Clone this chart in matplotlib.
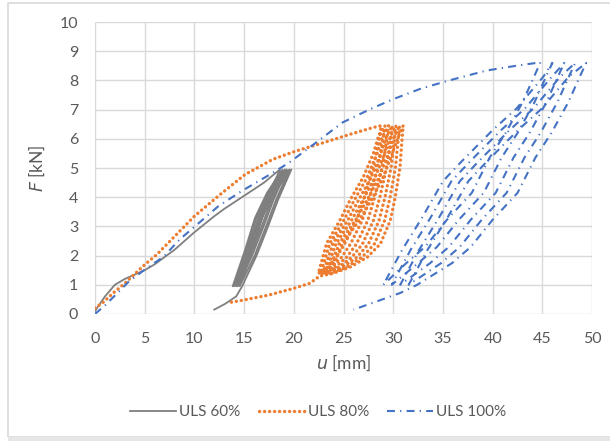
import matplotlib
matplotlib.use("Agg")
import matplotlib.pyplot as plt
from matplotlib.patches import Rectangle

plt.rcParams['font.family'] = ['Lato', 'DejaVu Sans']

# ULS 60 % : first loading, cyclic part, final unloading
u60 = [0, 0.5, 1, 2, 2.5, 3, 4, 5, 6, 7, 8, 10, 12, 13, 15, 17, 18.6,
       18.15, 17.25, 16.2, 15.1, 13.85, 15.1, 16.1, 17.3, 18.85,
       18.4, 17.5, 16.45, 15.35, 14.0, 15.25, 16.25, 17.45, 19.1,
       18.65, 17.75, 16.7, 15.6, 14.2, 15.45, 16.45, 17.65, 19.3,
       18.85, 17.95, 16.9, 15.8, 14.35, 15.6, 16.6, 17.8, 19.55,
       19.1, 18.2, 17.15, 16.05, 14.55, 15.8, 16.8, 18.0, 19.75,
       19.3, 18.4, 17.35, 16.25, 14.8,
       14.2, 13.1, 12.0]
F60 = [0.1, 0.35, 0.6, 1.0, 1.1, 1.2, 1.35, 1.5, 1.7, 1.95, 2.2, 2.8, 3.35, 3.6, 4.05, 4.5, 4.95,
       4.6, 3.9, 2.95, 2.0, 0.95, 2.2, 3.3, 4.15, 4.95,
       4.6, 3.9, 2.95, 2.0, 0.95, 2.2, 3.3, 4.15, 4.95,
       4.6, 3.9, 2.95, 2.0, 0.95, 2.2, 3.3, 4.15, 4.95,
       4.6, 3.9, 2.95, 2.0, 0.95, 2.2, 3.3, 4.15, 4.95,
       4.6, 3.9, 2.95, 2.0, 0.95, 2.2, 3.3, 4.15, 4.95,
       4.6, 3.9, 2.95, 2.0, 0.95,
       0.6, 0.35, 0.15]

# ULS 80 %
u80 = [0, 0.9, 1.8, 3.0, 5.0, 6.2, 7.7, 10.0, 12.4, 15.1, 17.9, 20.2, 23.0, 25.7, 28.0, 28.8,
       28.5, 28.0, 27.1, 26.3, 25.1, 24.3, 23.4, 22.45,
       23.3, 24.65, 25.65, 27.0, 28.0, 28.5, 29.17,
       28.89, 28.45, 27.62, 26.87, 25.7, 24.82, 23.77, 22.68,
       23.62, 25.04, 26.08, 27.4, 28.38, 28.9, 29.53,
       29.28, 28.89, 28.13, 27.43, 26.3, 25.33, 24.14, 22.92,
       23.94, 25.43, 26.51, 27.8, 28.76, 29.3, 29.9,
       29.68, 29.34, 28.65, 28.0, 26.9, 25.85, 24.52, 23.15,
       24.26, 25.82, 26.94, 28.2, 29.14, 29.7, 30.27,
       30.07, 29.79, 29.17, 28.57, 27.5, 26.37, 24.89, 23.38,
       24.58, 26.21, 27.37, 28.6, 29.52, 30.1, 30.63,
       30.46, 30.23, 29.68, 29.13, 28.1, 26.88, 25.26, 23.62,
       24.9, 26.6, 27.8, 29.0, 29.9, 30.5, 31.0,
       30.85, 30.68, 30.2, 29.7, 28.7, 27.4, 25.63, 23.85,
       22.6, 21.6, 20.0, 17.5, 15.0, 13.3]
F80 = [0.2, 0.42, 0.71, 1.05, 1.69, 2.03, 2.55, 3.35, 4.04, 4.78, 5.3, 5.58, 5.87, 6.16, 6.39, 6.45,
       5.85, 5.04, 4.0, 3.2, 2.4, 1.95, 1.6, 1.38,
       2.42, 3.22, 3.9, 4.7, 5.5, 6.07, 6.45,
       5.85, 5.04, 4.0, 3.2, 2.4, 1.95, 1.6, 1.38,
       2.42, 3.22, 3.9, 4.7, 5.5, 6.07, 6.45,
       5.85, 5.04, 4.0, 3.2, 2.4, 1.95, 1.6, 1.38,
       2.42, 3.22, 3.9, 4.7, 5.5, 6.07, 6.45,
       5.85, 5.04, 4.0, 3.2, 2.4, 1.95, 1.6, 1.38,
       2.42, 3.22, 3.9, 4.7, 5.5, 6.07, 6.45,
       5.85, 5.04, 4.0, 3.2, 2.4, 1.95, 1.6, 1.38,
       2.42, 3.22, 3.9, 4.7, 5.5, 6.07, 6.45,
       5.85, 5.04, 4.0, 3.2, 2.4, 1.95, 1.6, 1.38,
       2.42, 3.22, 3.9, 4.7, 5.5, 6.07, 6.45,
       5.85, 5.04, 4.0, 3.2, 2.4, 1.95, 1.6, 1.38,
       1.3, 1.05, 0.88, 0.65, 0.48, 0.38]

# ULS 100 %
u100 = [0, 1.06, 2.23, 3.4, 4.97, 6.93, 8.5, 10.05, 12.4, 14.75, 17.9, 19.5, 21.8, 24.9,
        27.7, 30.0, 32.7, 35.5, 39.4, 42.5, 44.8,
        44.2, 43.0, 41.3, 39.7, 37.9, 35.4, 33.2, 31.3, 29.0,
        30.9, 32.9, 35.0, 36.8, 40.0, 42.4, 45.1, 46.0,
        45.4, 44.2, 42.5, 40.9, 39.1, 36.6, 34.4, 32.5, 29.85,
        31.75, 33.75, 35.85, 37.65, 40.85, 43.25, 45.95, 47.2,
        46.6, 45.4, 43.7, 42.1, 40.3, 37.8, 35.6, 33.7, 30.7,
        32.6, 34.6, 36.7, 38.5, 41.7, 44.1, 46.8, 48.3,
        47.7, 46.5, 44.8, 43.2, 41.4, 38.9, 36.7, 34.8, 31.55,
        33.45, 35.45, 37.55, 39.35, 42.55, 44.95, 47.65, 49.4,
        48.8, 47.6, 45.9, 44.3, 42.5, 40.0, 37.8, 35.9, 32.4,
        30.7, 28.5, 26.0]
F100 = [0, 0.31, 0.71, 1.11, 1.51, 1.97, 2.55, 3.0, 3.69, 4.21, 4.84, 5.18, 5.76, 6.56,
        7.02, 7.36, 7.71, 7.99, 8.34, 8.51, 8.62,
        8.16, 7.25, 6.2, 5.36, 4.15, 3.23, 2.3, 1.74, 1.0,
        2.2, 3.3, 4.55, 5.2, 6.3, 7.04, 8.13, 8.6,
        8.16, 7.25, 6.2, 5.36, 4.15, 3.23, 2.3, 1.74, 1.0,
        2.2, 3.3, 4.55, 5.2, 6.3, 7.04, 8.13, 8.6,
        8.16, 7.25, 6.2, 5.36, 4.15, 3.23, 2.3, 1.74, 1.0,
        2.2, 3.3, 4.55, 5.2, 6.3, 7.04, 8.13, 8.6,
        8.16, 7.25, 6.2, 5.36, 4.15, 3.23, 2.3, 1.74, 1.0,
        2.2, 3.3, 4.55, 5.2, 6.3, 7.04, 8.13, 8.6,
        8.16, 7.25, 6.2, 5.36, 4.15, 3.23, 2.3, 1.74, 1.0,
        0.72, 0.45, 0.15]

labels = ['ULS 60%', 'ULS 80%', 'ULS 100%']
xticks = list(range(0, 51, 5))
yticks = list(range(0, 11))

txt = '#595959'
fig = plt.figure(figsize=(6.1, 4.41), dpi=100)
ax = fig.add_axes([0.1557, 0.288, 0.815, 0.662])

ax.plot(u60, F60, color='#7f7f7f', lw=1.3, label=labels[0], zorder=3)
ax.plot(u80, F80, color='#ed7d31', lw=2.4, dashes=(0.05, 1.45),
        dash_capstyle='round', label=labels[1], zorder=4)
ax.plot(u100, F100, color='#4472c4', lw=1.5, dashes=(3.8, 2.5, 0.6, 2.5),
        label=labels[2], zorder=5)

ax.set_xlim(0, 50)
ax.set_ylim(0, 10)
ax.set_xticks(xticks)
ax.set_yticks(yticks)
ax.grid(True, color='#d9d9d9', lw=1.0)
ax.set_axisbelow(True)
for s in ax.spines.values():
    s.set_visible(False)
ax.tick_params(length=0, labelsize=11.5, labelcolor=txt, pad=13)
ax.tick_params(axis='y', pad=12)

ax.set_xlabel('$\\it{u}$ [mm]', fontsize=12.5, color=txt, labelpad=5)
ax.set_ylabel('$\\it{F}$ [kN]', fontsize=12.5, color=txt, labelpad=9)

leg = fig.legend(loc='center', bbox_to_anchor=(0.522, 0.066), ncol=3, frameon=False,
                 fontsize=11, handlelength=3.0, columnspacing=1.2, handletextpad=0.2)
for t in leg.get_texts():
    t.set_color(txt)

# chart area border
fig.patches.append(Rectangle((8 / 610, 4 / 441), 1.0, 434 / 441, transform=fig.transFigure,
                             fill=False, edgecolor='#d9d9d9', lw=1.2))
fig.patches.append(Rectangle((8 / 610, 0), 1.0, 4 / 441, transform=fig.transFigure,
                             facecolor='#e6e6e6', edgecolor='none'))

fig.savefig('out.png', dpi=100)
